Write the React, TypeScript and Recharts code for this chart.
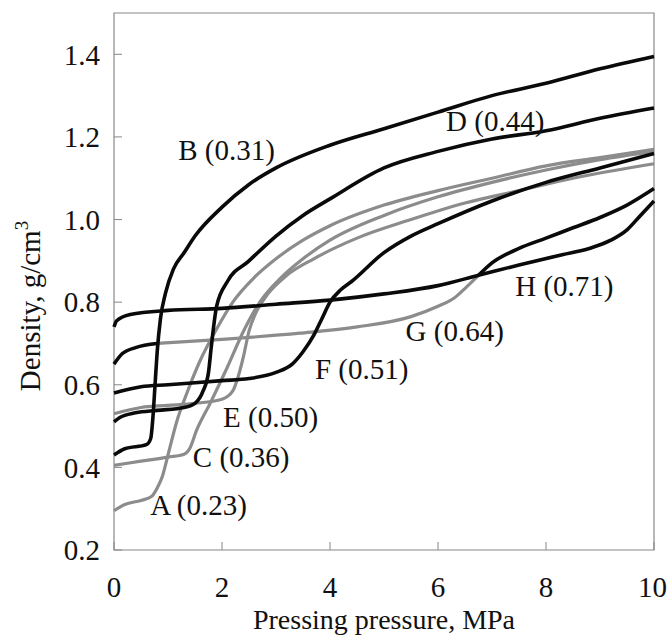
import { LineChart, Line, XAxis, YAxis, ReferenceArea, ReferenceDot } from 'recharts'

const pressureTicks = [0, 2, 4, 6, 8, 10]
const densityTicks = [0.2, 0.4, 0.6, 0.8, 1.0, 1.2, 1.4]

// pressing pressure (MPa) / density (g/cm3)
const aP = [0, 0.2, 0.5, 0.7, 0.8, 0.9, 1.0, 1.16, 1.35, 1.6, 1.9, 2.2, 2.6, 3, 3.5, 4, 5, 6, 7, 8, 9, 10]
const aD = [0.295, 0.31, 0.32, 0.33, 0.35, 0.38, 0.43, 0.51, 0.58, 0.66, 0.735, 0.8, 0.86, 0.905, 0.95, 0.985, 1.035, 1.07, 1.1, 1.13, 1.15, 1.17]

const bP = [0, 0.2, 0.6, 0.68, 0.72, 0.76, 0.8, 0.86, 0.95, 1.1, 1.3, 1.5, 2, 2.5, 3, 4, 5, 6, 7, 8, 9, 10]
const bD = [0.43, 0.445, 0.455, 0.47, 0.52, 0.6, 0.68, 0.76, 0.82, 0.88, 0.92, 0.96, 1.03, 1.085, 1.125, 1.18, 1.22, 1.26, 1.3, 1.33, 1.365, 1.395]

const cP = [0, 0.5, 1.0, 1.3, 1.4, 1.53, 1.78, 2.09, 2.4, 2.7, 3.1, 3.5, 4, 5, 6, 7, 8, 9, 10]
const cD = [0.405, 0.415, 0.425, 0.432, 0.445, 0.49, 0.555, 0.64, 0.73, 0.8, 0.86, 0.905, 0.95, 1.01, 1.055, 1.09, 1.12, 1.145, 1.165]

const dP = [0, 0.1, 0.4, 0.8, 1.3, 1.5, 1.65, 1.75, 1.8, 1.9, 2.1, 2.5, 3, 3.5, 4, 5, 6, 7, 8, 9, 10]
const dD = [0.51, 0.52, 0.532, 0.538, 0.545, 0.555, 0.585, 0.63, 0.69, 0.79, 0.85, 0.9, 0.96, 1.01, 1.05, 1.125, 1.165, 1.195, 1.215, 1.245, 1.27]

const eP = [0, 0.5, 1, 1.5, 2, 2.2, 2.3, 2.4, 2.5, 2.65, 2.85, 3.2, 3.7, 4.5, 5.5, 6.5, 7.5, 8.5, 10]
const eD = [0.53, 0.545, 0.55, 0.555, 0.565, 0.585, 0.62, 0.67, 0.73, 0.78, 0.82, 0.865, 0.905, 0.955, 1.0, 1.04, 1.07, 1.1, 1.135]

const fP = [0, 0.5, 1, 2, 2.5, 3, 3.3, 3.5, 3.7, 3.85, 4.0, 4.2, 4.4, 5, 5.5, 6, 7, 8, 9, 10]
const fD = [0.58, 0.595, 0.6, 0.61, 0.615, 0.63, 0.65, 0.68, 0.72, 0.76, 0.8, 0.83, 0.85, 0.92, 0.96, 0.99, 1.045, 1.09, 1.125, 1.16]

const gP = [0, 0.15, 0.4, 0.8, 2, 3.44, 4.5, 5.5, 6.0, 6.3, 6.53, 6.75, 7, 7.5, 8, 8.5, 9, 9.5, 10]
const gD = [0.65, 0.675, 0.69, 0.7, 0.71, 0.725, 0.74, 0.765, 0.79, 0.81, 0.837, 0.865, 0.895, 0.93, 0.955, 0.98, 1.005, 1.035, 1.075]

const hP = [0, 0.05, 0.3, 1, 2, 3, 4, 5, 6, 6.75, 7.5, 8.3, 8.8, 9.2, 9.5, 9.75, 10]
const hD = [0.74, 0.755, 0.77, 0.78, 0.785, 0.795, 0.805, 0.82, 0.84, 0.865, 0.89, 0.915, 0.93, 0.95, 0.975, 1.01, 1.045]

const labelNames = ['A (0.23)', 'B (0.31)', 'C (0.36)', 'D (0.44)', 'E (0.50)', 'F (0.51)', 'G (0.64)', 'H (0.71)']

const BLACK = '#0a0a0a'
const GRAY = '#8c8c8c'
const FONT = '"Liberation Serif", "Times New Roman", serif'
const FS = 29

const pts = (p: number[], d: number[], from = 0, to = p.length) =>
  p.slice(from, to).map((x, i) => ({ p: x, d: d[from + i] }))

const grayLines = [
  { id: 'A', data: pts(aP, aD) },
  { id: 'C', data: pts(cP, cD) },
  { id: 'E', data: pts(eP, eD) },
  { id: 'G-mid', data: pts(gP, gD, 3, 12) },
]
const blackLines = [
  { id: 'B', data: pts(bP, bD) },
  { id: 'D', data: pts(dP, dD) },
  { id: 'F', data: pts(fP, fD) },
  { id: 'G-start', data: pts(gP, gD, 0, 4) },
  { id: 'G-end', data: pts(gP, gD, 11) },
  { id: 'H', data: pts(hP, hD) },
]

// where each curve label starts (left edge, vertical middle)
const labelAnchors = [
  [0.67, 0.31], [1.19, 1.17], [1.46, 0.425], [6.15, 1.24],
  [2.02, 0.522], [3.72, 0.64], [5.4, 0.73], [7.43, 0.84],
]

function YTitle() {
  return (
    <text x={40} y={306} transform="rotate(-90 40 306)" textAnchor="middle"
      fontFamily={FONT} fontSize={FS} fill="#111">
      Density, g/cm<tspan dy={-12} fontSize={19}>3</tspan>
    </text>
  )
}

function XTitle() {
  return (
    <text x={384} y={629} textAnchor="middle" fontFamily={FONT} fontSize={28} fill="#111">
      Pressing pressure, MPa
    </text>
  )
}

export default function App() {
  return (
    <div style={{ position: 'absolute', left: 0, top: 0, background: '#fff' }}>
      <LineChart width={667} height={635} margin={{ top: 13, right: 13, left: 0, bottom: 0 }}>
        <XAxis
          type="number"
          dataKey="p"
          domain={[0, 10]}
          ticks={pressureTicks}
          height={85}
          tickSize={-8}
          tickMargin={34}
          axisLine={false}
          tickLine={{ stroke: '#888' }}
          tick={{ fill: '#111', fontSize: FS, fontFamily: FONT }}
          label={{ content: () => <XTitle /> }}
        />
        <YAxis
          type="number"
          dataKey="d"
          domain={[0.2, 1.5]}
          ticks={densityTicks}
          width={114}
          tickSize={-8}
          tickMargin={22}
          axisLine={false}
          tickLine={{ stroke: '#888' }}
          tickFormatter={v => v.toFixed(1)}
          tick={{ fill: '#111', fontSize: FS, fontFamily: FONT }}
          label={{ content: () => <YTitle /> }}
        />
        <ReferenceArea x1={0} x2={10} y1={0.2} y2={1.5} fill="none" stroke="#888" strokeWidth={1.2} />
        {grayLines.map(s => (
          <Line key={s.id} data={s.data} dataKey="d" type="monotone" stroke={GRAY} strokeWidth={3.2}
            dot={false} isAnimationActive={false} />
        ))}
        {blackLines.map(s => (
          <Line key={s.id} data={s.data} dataKey="d" type="monotone" stroke={BLACK} strokeWidth={3.6}
            dot={false} isAnimationActive={false} />
        ))}
        {labelNames.map((name, i) => (
          <ReferenceDot key={name} x={labelAnchors[i][0]} y={labelAnchors[i][1]} r={0} stroke="none" fill="none"
            ifOverflow="visible"
            label={{ value: name, position: 'right', offset: 0, fill: '#111', fontSize: FS, fontFamily: FONT }} />
        ))}
      </LineChart>
    </div>
  )
}
